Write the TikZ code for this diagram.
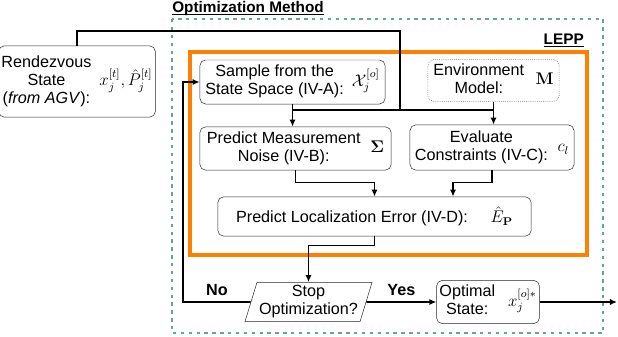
\documentclass[tikz,border=0pt]{standalone}
\usepackage[no-math]{fontspec}
\setmainfont{Liberation Sans}
\usepackage{amsmath}
\usetikzlibrary{arrows.meta,calc,positioning,shapes.geometric}
\definecolor{methodteal}{RGB}{98,168,152}
\definecolor{lepporange}{RGB}{255,128,0}
\definecolor{ink}{RGB}{0,0,0}
\tikzset{
  flow/.style={-{Latex[length=5pt,width=4.4pt]}, line width=1.1pt, draw=ink},
  link/.style={line width=1.1pt, draw=ink},
  blk/.style={draw=ink!85, line width=0.35pt, rounded corners=4pt, align=center, inner sep=2pt},
  envblk/.style={blk, densely dotted},
  decide/.style={trapezium, trapezium left angle=73, trapezium right angle=107,
    draw=ink!85, line width=0.35pt, align=center, inner sep=1pt},
  lab/.style={font=\bfseries},
  head/.style={font=\fontsize{10.9}{12}\selectfont\bfseries, inner sep=0pt},
}
\newcommand{\stack}[1]{\begin{tabular}{@{}c@{}}#1\end{tabular}}
\newcommand{\ulhead}[1]{\setbox0=\hbox{#1}\rlap{\vrule height -1.3pt depth 2.3pt width \wd0}\box0}

\begin{document}
\fontsize{11.5}{12.8}\selectfont
\begin{tikzpicture}[x=0.025cm,y=-0.025cm]
  \useasboundingbox (0,0) rectangle (618,336);

  % Frames: optimization method and LEPP.
  \draw[methodteal, line width=2.1pt, dash pattern=on 2.4pt off 3.2pt] (172,19) rectangle (603,333);
  \draw[lepporange, line width=2.6pt] (190,52) rectangle (587,255);
  \node[head, anchor=base west] (methodTitle) at (172,12) {\ulhead{Optimization Method}};
  \node[head, anchor=base east] (leppTitle) at (584,44) {\ulhead{LEPP}};

  % Blocks.
  \node[blk, minimum width=3.75cm, minimum height=1.78cm] (rdv) at (77,81.5)
    {\stack{Rendezvous\\State\\(\textit{from AGV}):}\hspace{0.5em}$x_j^{[t]},\hat{P}_j^{[t]}$};
  \node[blk, minimum width=4.63cm, minimum height=1.1cm] (sample) at (292.5,82)
    {\stack{Sample from the\\State Space (IV-A):}\hspace{0.5em}$\mathcal{X}_j^{[o]}$};
  \node[envblk, minimum width=3.28cm, minimum height=0.93cm] (env) at (493.5,80.5)
    {\stack{Environment\\Model:}\hspace{0.7em}$\mathbf{M}$};
  \node[blk, minimum width=4.78cm, minimum height=1.08cm] (noise) at (295.5,148.5)
    {\stack{Predict Measurement\\Noise (IV-B):}\hspace{0.6em}$\mathbf{\Sigma}$};
  \node[blk, minimum width=4.1cm, minimum height=1.13cm] (cons) at (492,147.5)
    {\stack{Evaluate\\Constraints (IV-C):}\hspace{0.6em}$c_l$};
  \node[blk, minimum width=7.83cm, minimum height=0.98cm] (err) at (374.5,216.5)
    {Predict Localization Error (IV-D):\hspace{1.4em}$\hat{E}_{\mathbf{P}}$};
  \node[decide, minimum width=3.18cm, minimum height=0.98cm] (stop) at (308.5,302)
    {\stack{Stop\\Optimization?}};
  \node[blk, minimum width=2.55cm, minimum height=1.08cm] (opt) at (488,302)
    {\stack{Optimal\\State:}\hspace{0.8em}$x_j^{[o]*}$};

  % Inputs into the two evaluation blocks.
  \coordinate (rdvTurn) at (400,31);
  \coordinate (split) at (400,110);
  \draw[link] (rdv.north) |- (rdvTurn) -- (split);
  \draw[link] (sample.south |- split) -- (env.south |- split);
  \draw[flow] (sample.south) -- (sample.south |- noise.north);
  \draw[flow] (env.south) -- (env.south |- cons.north);

  % Merge into the localization error.
  \draw[flow] (noise.south) |- ($(err.north)+(0,-14)$) -- (err.north);
  \draw[flow] (cons.south) |- ($(err.north)+(78.5,-14)$) -- ($(err.north)+(78.5,0)$);
  \draw[flow] (err.south) -- ++(0,9) -| (stop.north);

  % Decision and loop back.
  \coordinate (loopCorner) at (183,302);
  \coordinate (optOut) at (617,302);
  \draw[flow] (stop.west) -- node[lab, above] {No} (loopCorner) |- (sample.west);
  \draw[flow] (stop.east) -- node[lab, above] {Yes} (opt.west);
  \draw[flow] (opt.east) -- (optOut);

\end{tikzpicture}
\end{document}
